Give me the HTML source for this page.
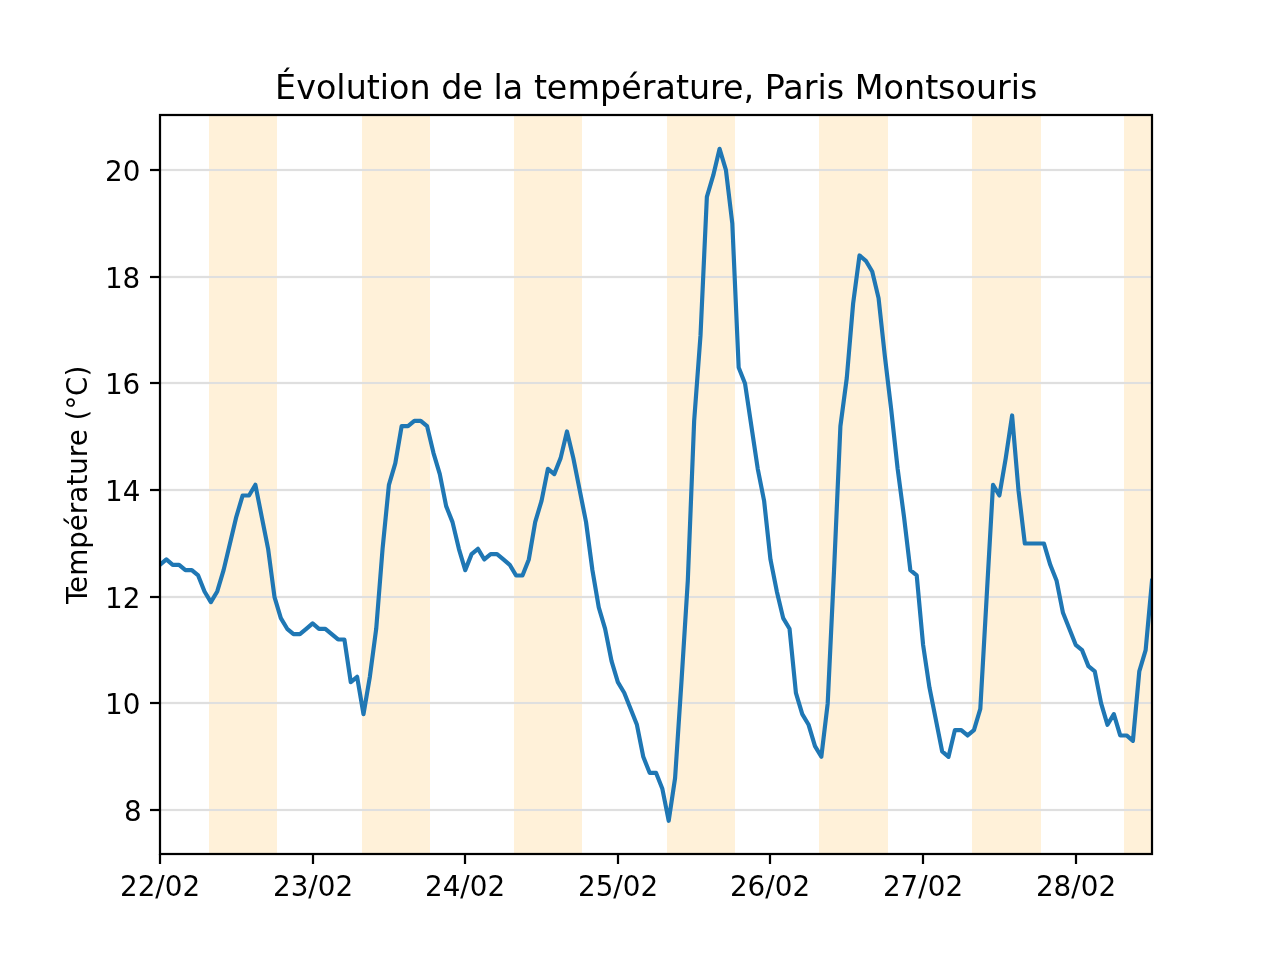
<!DOCTYPE html>
<html lang="fr">
<head>
<meta charset="utf-8">
<title>Évolution de la température, Paris Montsouris</title>
<style>
html,body{margin:0;padding:0;background:#fff;}
body{width:1280px;height:960px;overflow:hidden;}
svg{display:block;position:absolute;left:0;top:0;}
text{font-family:"DejaVu Sans","Liberation Sans",sans-serif;fill:#000;white-space:pre;}
.tick{font-size:27.78px;}
.title{font-size:33.33px;}
</style>
</head>
<body>
<svg width="1280" height="960" viewBox="0 0 1280 960">
<rect x="0" y="0" width="1280" height="960" fill="#ffffff"/>
<defs><clipPath id="ax"><rect x="160" y="115.2" width="992" height="739.2"/></clipPath></defs>
<g fill="#dfdfdf" shape-rendering="crispEdges" opacity="0.073">
<rect x="160" y="808" width="992" height="4"/>
<rect x="160" y="701" width="992" height="4"/>
<rect x="160" y="595" width="992" height="4"/>
<rect x="160" y="488" width="992" height="4"/>
<rect x="160" y="381" width="992" height="4"/>
<rect x="160" y="275" width="992" height="4"/>
<rect x="160" y="168" width="992" height="4"/>
</g>
<g fill="#fff1d9" shape-rendering="crispEdges">
<rect x="209" y="115" width="68" height="739"/>
<rect x="362" y="115" width="68" height="739"/>
<rect x="514" y="115" width="68" height="739"/>
<rect x="667" y="115" width="68" height="739"/>
<rect x="819" y="115" width="69" height="739"/>
<rect x="972" y="115" width="69" height="739"/>
<rect x="1124" y="115" width="28" height="739"/>
</g>
<g fill="#dfdfdf" shape-rendering="crispEdges">
<rect x="160" y="808" width="992" height="4" opacity="0.04"/><rect x="160" y="809" width="992" height="2"/>
<rect x="160" y="701" width="992" height="4" opacity="0.04"/><rect x="160" y="702" width="992" height="2"/>
<rect x="160" y="595" width="992" height="4" opacity="0.04"/><rect x="160" y="596" width="992" height="2"/>
<rect x="160" y="488" width="992" height="4" opacity="0.04"/><rect x="160" y="489" width="992" height="2"/>
<rect x="160" y="381" width="992" height="4" opacity="0.04"/><rect x="160" y="382" width="992" height="2"/>
<rect x="160" y="275" width="992" height="4" opacity="0.04"/><rect x="160" y="276" width="992" height="2"/>
<rect x="160" y="168" width="992" height="4" opacity="0.04"/><rect x="160" y="169" width="992" height="2"/>
</g>
<g clip-path="url(#ax)">
<polyline points="160.000,564.800 166.359,559.467 172.718,564.800 179.077,564.800 185.436,570.133 191.795,570.133 198.154,575.467 204.513,591.467 210.872,602.133 217.231,591.467 223.590,570.133 229.949,543.467 236.308,516.800 242.667,495.467 249.026,495.467 255.385,484.800 261.744,516.800 268.103,548.800 274.462,596.800 280.821,618.133 287.179,628.800 293.538,634.133 299.897,634.133 306.256,628.800 312.615,623.467 318.974,628.800 325.333,628.800 331.692,634.133 338.051,639.467 344.410,639.467 350.769,682.133 357.128,676.800 363.487,714.133 369.846,676.800 376.205,628.800 382.564,548.800 388.923,484.800 395.282,463.467 401.641,426.133 408.000,426.133 414.359,420.800 420.718,420.800 427.077,426.133 433.436,452.800 439.795,474.133 446.154,506.133 452.513,522.133 458.872,548.800 465.231,570.133 471.590,554.133 477.949,548.800 484.308,559.467 490.667,554.133 497.026,554.133 503.385,559.467 509.744,564.800 516.103,575.467 522.462,575.467 528.821,559.467 535.179,522.133 541.538,500.800 547.897,468.800 554.256,474.133 560.615,458.133 566.974,431.467 573.333,458.133 579.692,490.133 586.051,522.133 592.410,570.133 598.769,607.467 605.128,628.800 611.487,660.800 617.846,682.133 624.205,692.800 630.564,708.800 636.923,724.800 643.282,756.800 649.641,772.800 656.000,772.800 662.359,788.800 668.718,820.800 675.077,778.133 681.436,682.133 687.795,580.800 694.154,420.800 700.513,335.467 706.872,196.800 713.231,175.467 719.590,148.800 725.949,170.133 732.308,223.467 738.667,367.467 745.026,383.467 751.385,426.133 757.744,468.800 764.103,500.800 770.462,559.467 776.821,591.467 783.179,618.133 789.538,628.800 795.897,692.800 802.256,714.133 808.615,724.800 814.974,746.133 821.333,756.800 827.692,703.467 834.051,570.133 840.410,426.133 846.769,378.133 853.128,303.467 859.487,255.467 865.846,260.800 872.205,271.467 878.564,298.133 884.923,356.800 891.282,410.133 897.641,468.800 904.000,516.800 910.359,570.133 916.718,575.467 923.077,644.800 929.436,687.467 935.795,719.467 942.154,751.467 948.513,756.800 954.872,730.133 961.231,730.133 967.590,735.467 973.949,730.133 980.308,708.800 986.667,596.800 993.026,484.800 999.385,495.467 1005.744,458.133 1012.103,415.467 1018.462,490.133 1024.821,543.467 1031.179,543.467 1037.538,543.467 1043.897,543.467 1050.256,564.800 1056.615,580.800 1062.974,612.800 1069.333,628.800 1075.692,644.800 1082.051,650.133 1088.410,666.133 1094.769,671.467 1101.128,703.467 1107.487,724.800 1113.846,714.133 1120.205,735.467 1126.564,735.467 1132.923,740.800 1139.282,671.467 1145.641,650.133 1152.000,580.800" fill="none" stroke="#1f77b4" stroke-width="4.17" stroke-linejoin="round" stroke-linecap="square"/>
</g>
<g stroke="#000" stroke-width="2.22" fill="none">
<line x1="160" y1="854" x2="160" y2="864.00"/>
<line x1="313" y1="854" x2="313" y2="864.00"/>
<line x1="465" y1="854" x2="465" y2="864.00"/>
<line x1="618" y1="854" x2="618" y2="864.00"/>
<line x1="770" y1="854" x2="770" y2="864.00"/>
<line x1="923" y1="854" x2="923" y2="864.00"/>
<line x1="1076" y1="854" x2="1076" y2="864.00"/>
<line x1="150.00" y1="810" x2="160" y2="810"/>
<line x1="150.00" y1="703" x2="160" y2="703"/>
<line x1="150.00" y1="597" x2="160" y2="597"/>
<line x1="150.00" y1="490" x2="160" y2="490"/>
<line x1="150.00" y1="383" x2="160" y2="383"/>
<line x1="150.00" y1="277" x2="160" y2="277"/>
<line x1="150.00" y1="170" x2="160" y2="170"/>
<rect x="160" y="115" width="992" height="739"/>
</g>
<g class="tick">
<text x="120.10 137.72 155.35 164.72 182.48" y="896.00">22/02</text>
<text x="273.10 290.72 308.23 317.85 335.60" y="896.00">23/02</text>
<text x="425.10 442.72 460.35 469.72 487.48" y="896.00">24/02</text>
<text x="578.10 595.72 613.35 622.72 640.48" y="896.00">25/02</text>
<text x="730.00 747.62 765.25 774.87 792.38" y="896.00">26/02</text>
<text x="883.00 900.62 918.25 927.87 945.38" y="896.00">27/02</text>
<text x="1036.10 1053.47 1071.35 1080.72 1098.48" y="896.00">28/02</text>
</g>
<g class="tick">
<text x="124.08" y="821.00">8</text>
<text x="105.10 122.72" y="714.00">10</text>
<text x="105.10 122.72" y="608.00">12</text>
<text x="105.10 122.72" y="501.00">14</text>
<text x="104.90 122.52" y="394.00">16</text>
<text x="104.90 122.52" y="288.00">18</text>
<text x="105.10 122.72" y="181.00">20</text>
</g>
<text class="tick ylabel" transform="translate(86.50,605.05) rotate(-90)" x="1.00 12.12 29.37 56.25 73.88 90.88 102.38 119.63 130.25 147.88 158.75 175.75 184.62 195.63 209.00 228.62" y="0">Température (°C)</text>
<text class="title" x="275.01 296.13 315.89 336.14 345.63 366.76 379.76 389.01 409.51 430.63 441.26 462.51 483.01 493.38 502.64 523.26 533.89 546.64 567.39 600.01 621.26 641.76 655.51 675.89 688.89 710.01 723.01 743.51 754.13 764.76 783.14 803.76 817.51 826.76 844.13 854.76 883.51 904.01 925.13 937.88 955.51 976.01 996.88 1010.64 1019.88" y="99.00">Évolution de la température, Paris Montsouris</text>
</svg>
</body>
</html>
